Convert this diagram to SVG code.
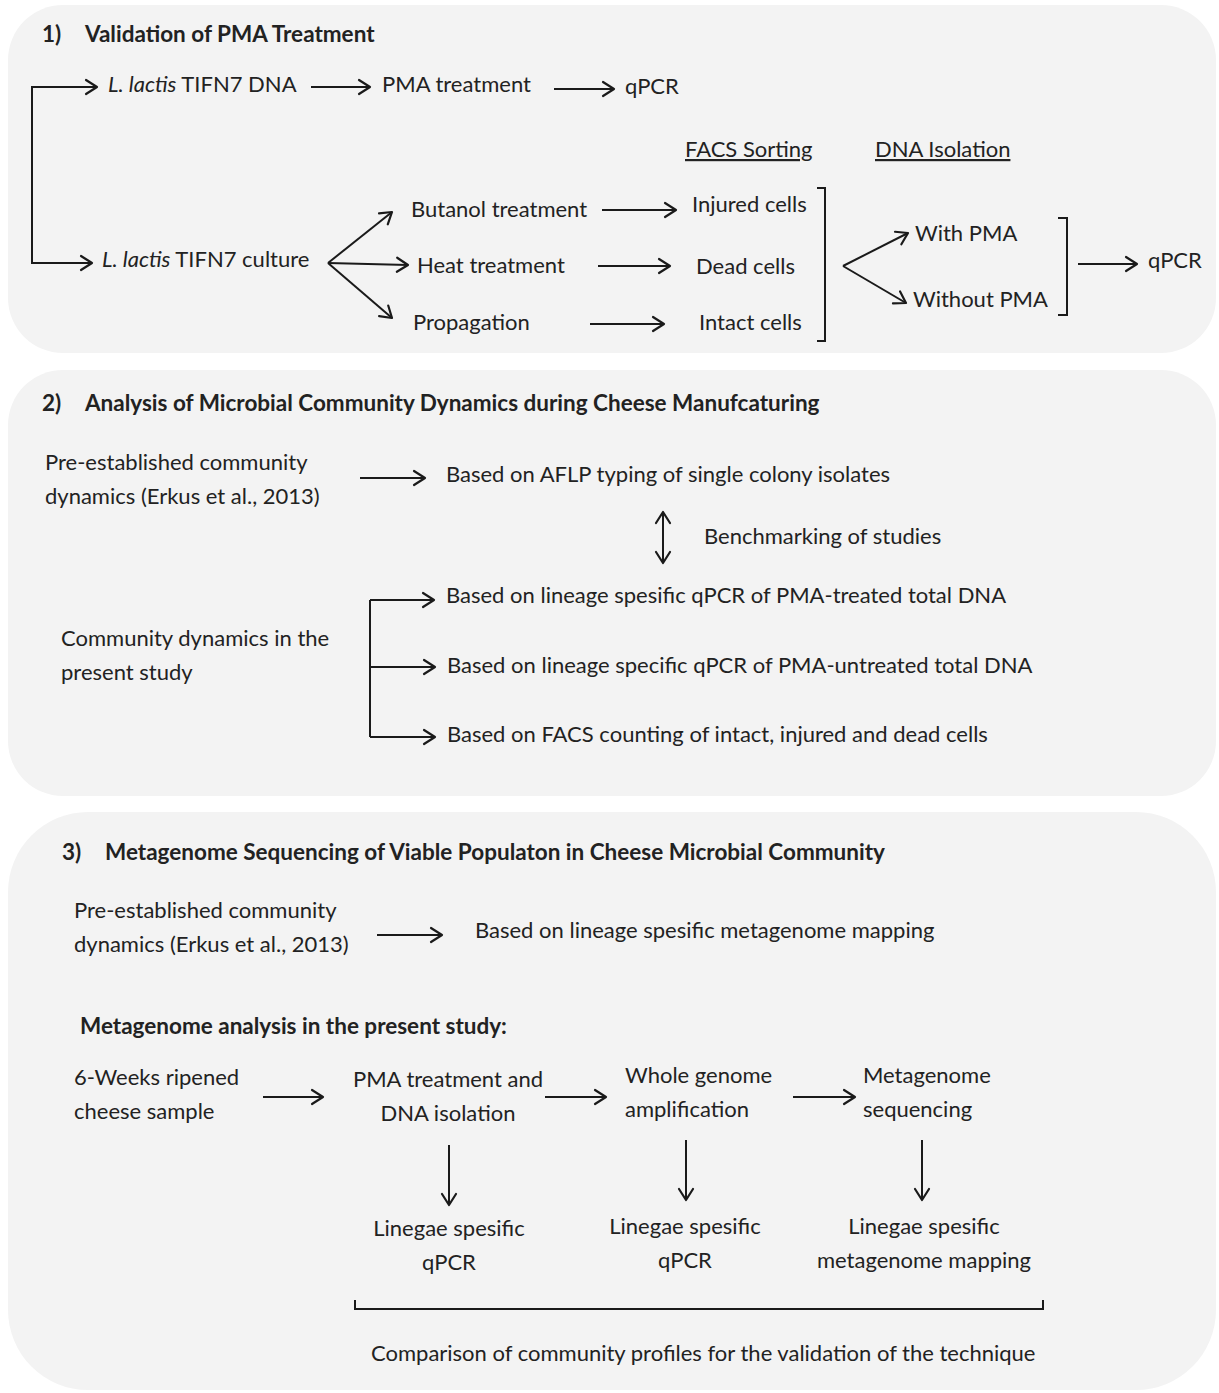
<svg xmlns="http://www.w3.org/2000/svg" width="1219" height="1393" viewBox="0 0 1219 1393">
<defs>
<marker id="ah" markerUnits="userSpaceOnUse" markerWidth="16" markerHeight="18" refX="13" refY="8" orient="auto-start-reverse" viewBox="0 0 16 16">
<path d="M2,1 L13,8 L2,15" fill="none" stroke="#1a1a1a" stroke-width="2.2" stroke-linecap="round" stroke-linejoin="round"/>
</marker>
<style>
text{font-family:Lato,"Open Sans","Liberation Sans",sans-serif;font-size:22px;fill:#222}
.b{font-weight:bold;font-size:22.5px}
.i{font-style:italic}
.m{text-anchor:middle}
.u{text-decoration:underline}
.panel{fill:#f3f3f3;stroke:none}
.c line,.c path,.c polyline{stroke:#1a1a1a;stroke-width:2;fill:none}
.a{marker-end:url(#ah)}
</style>
</defs>
<rect width="1219" height="1393" fill="#ffffff"/>
<g id="panel1"><rect class="panel" x="8" y="5" width="1208" height="348" rx="55"/></g>
<g id="panel2"><rect class="panel" x="8" y="370" width="1208" height="426" rx="55"/></g>
<g id="panel3"><rect class="panel" x="8" y="812" width="1208" height="578" rx="80"/></g>

<g class="c" id="connectors">
<polyline points="92,87 32,87 32,263 92,263"/>
<line class="a" x1="80" y1="87" x2="97" y2="87"/>
<line class="a" x1="80" y1="263" x2="92" y2="263"/>
<line class="a" x1="311" y1="87" x2="370" y2="87"/>
<line class="a" x1="554" y1="89" x2="614" y2="89"/>
<line class="a" x1="328" y1="263" x2="392" y2="212"/>
<line class="a" x1="328" y1="263" x2="408" y2="265"/>
<line class="a" x1="328" y1="263" x2="392" y2="318"/>
<line class="a" x1="602" y1="210" x2="676" y2="210"/>
<line class="a" x1="598" y1="266" x2="670" y2="266"/>
<line class="a" x1="590" y1="324" x2="664" y2="324"/>
<polyline points="817,188 825,188 825,341 817,341"/>
<line class="a" x1="843" y1="266" x2="908" y2="233"/>
<line class="a" x1="843" y1="266" x2="906" y2="303"/>
<polyline points="1058,218 1067,218 1067,315 1058,315"/>
<line class="a" x1="1078" y1="264" x2="1137" y2="264"/>

<line class="a" x1="360" y1="478" x2="425" y2="478"/>
<line class="a" x1="663" y1="537" x2="663" y2="512"/>
<line class="a" x1="663" y1="537" x2="663" y2="563"/>
<line x1="370" y1="600" x2="370" y2="737"/>
<line class="a" x1="370" y1="600" x2="434" y2="600"/>
<line class="a" x1="370" y1="667" x2="435" y2="667"/>
<line class="a" x1="370" y1="737" x2="435" y2="737"/>

<line class="a" x1="377" y1="935" x2="442" y2="935"/>
<line class="a" x1="263" y1="1097" x2="323" y2="1097"/>
<line class="a" x1="545" y1="1097" x2="606" y2="1097"/>
<line class="a" x1="793" y1="1097" x2="855" y2="1097"/>
<line class="a" x1="449" y1="1145" x2="449" y2="1205"/>
<line class="a" x1="686" y1="1140" x2="686" y2="1200"/>
<line class="a" x1="922" y1="1140" x2="922" y2="1200"/>
<polyline points="355,1300 355,1309 1043,1309 1043,1300"/>
</g>

<g id="n-title1"><text class="b" x="42" y="42">1)</text><text class="b" x="85" y="42">Validation of PMA Treatment</text></g>
<g id="n-dna"><text x="108" y="92"><tspan class="i">L. lactis</tspan> TIFN7 DNA</text></g>
<g id="n-pma"><text x="382" y="92">PMA treatment</text></g>
<g id="n-qpcr1"><text x="625" y="94">qPCR</text></g>
<g id="n-facs"><text class="u" x="685" y="157">FACS Sorting</text></g>
<g id="n-dnaiso"><text class="u" x="875" y="157">DNA Isolation</text></g>
<g id="n-culture"><text x="102" y="267"><tspan class="i">L. lactis</tspan> TIFN7 culture</text></g>
<g id="n-butanol"><text x="411" y="217">Butanol treatment</text></g>
<g id="n-heat"><text x="417" y="273">Heat treatment</text></g>
<g id="n-prop"><text x="413" y="330">Propagation</text></g>
<g id="n-injured"><text x="692" y="212">Injured cells</text></g>
<g id="n-dead"><text x="696" y="274">Dead cells</text></g>
<g id="n-intact"><text x="699" y="330">Intact cells</text></g>
<g id="n-with"><text x="915" y="241">With PMA</text></g>
<g id="n-without"><text x="913" y="307">Without PMA</text></g>
<g id="n-qpcr2"><text x="1148" y="268">qPCR</text></g>

<g id="n-title2"><text class="b" x="42" y="411">2)</text><text class="b" x="85" y="411">Analysis of Microbial Community Dynamics during Cheese Manufcaturing</text></g>
<g id="n-pre2"><text x="45" y="470">Pre-established community</text><text x="45" y="504">dynamics (Erkus et al., 2013)</text></g>
<g id="n-aflp"><text x="446" y="482">Based on AFLP typing of single colony isolates</text></g>
<g id="n-bench"><text x="704" y="544">Benchmarking of studies</text></g>
<g id="n-comm"><text x="61" y="646">Community dynamics in the</text><text x="61" y="680">present study</text></g>
<g id="n-b1"><text x="446" y="603">Based on lineage spesific qPCR of PMA-treated total DNA</text></g>
<g id="n-b2"><text x="447" y="673">Based on lineage specific qPCR of PMA-untreated total DNA</text></g>
<g id="n-b3"><text x="447" y="742">Based on FACS counting of intact, injured and dead cells</text></g>

<g id="n-title3"><text class="b" x="62" y="860">3)</text><text class="b" x="105" y="860">Metagenome Sequencing of Viable Populaton in Cheese Microbial Community</text></g>
<g id="n-pre3"><text x="74" y="918">Pre-established community</text><text x="74" y="952">dynamics (Erkus et al., 2013)</text></g>
<g id="n-map"><text x="475" y="938">Based on lineage spesific metagenome mapping</text></g>
<g id="n-meta"><text class="b" x="80" y="1034">Metagenome analysis in the present study:</text></g>
<g id="n-cheese"><text x="74" y="1085">6-Weeks ripened</text><text x="74" y="1119">cheese sample</text></g>
<g id="n-pmaiso"><text class="m" x="448" y="1087">PMA treatment and</text><text class="m" x="448" y="1121">DNA isolation</text></g>
<g id="n-wga"><text x="625" y="1083">Whole genome</text><text x="625" y="1117">amplification</text></g>
<g id="n-seq"><text x="863" y="1083">Metagenome</text><text x="863" y="1117">sequencing</text></g>
<g id="n-l1"><text class="m" x="449" y="1236">Linegae spesific</text><text class="m" x="449" y="1270">qPCR</text></g>
<g id="n-l2"><text class="m" x="685" y="1234">Linegae spesific</text><text class="m" x="685" y="1268">qPCR</text></g>
<g id="n-l3"><text class="m" x="924" y="1234">Linegae spesific</text><text class="m" x="924" y="1268">metagenome mapping</text></g>
<g id="n-comp"><text x="371" y="1361">Comparison of community profiles for the validation of the technique</text></g>
</svg>
